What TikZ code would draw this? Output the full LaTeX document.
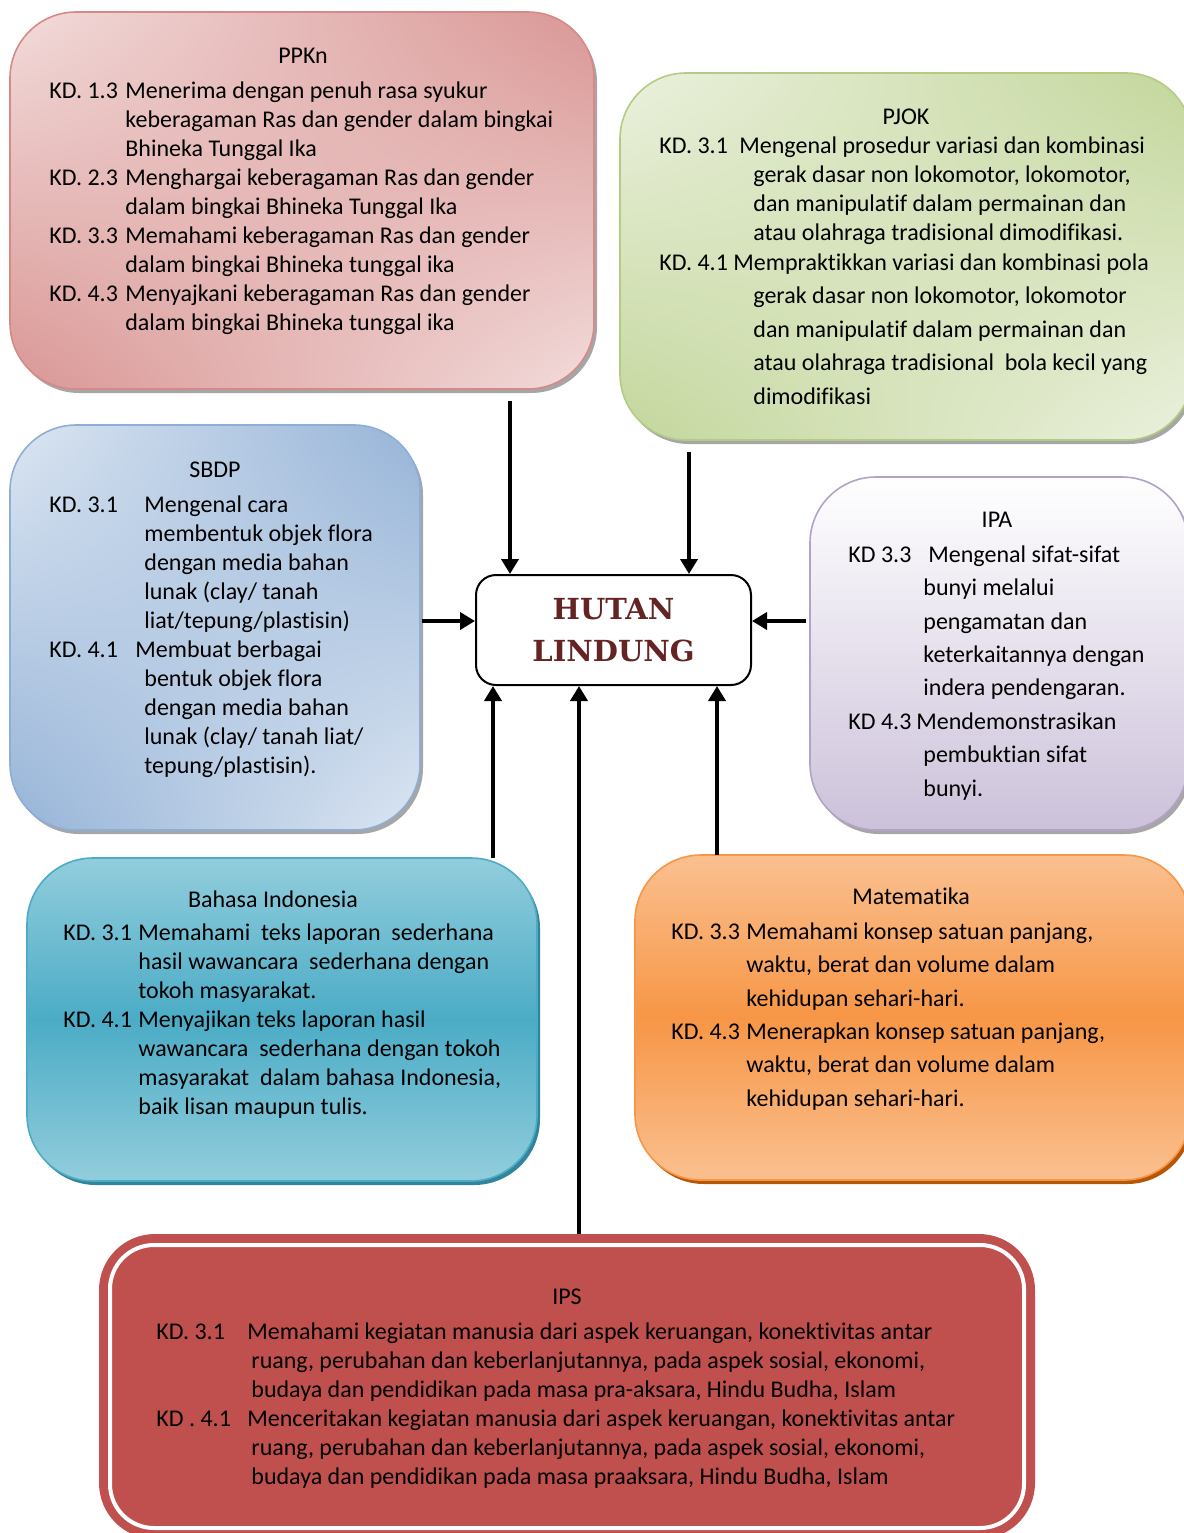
\documentclass[tikz,border=0pt]{standalone}
\usepackage{fontspec}
\setmainfont{Carlito}[Ligatures={NoCommon}]
\newfontfamily\hubfont{DejaVu Serif}
\usetikzlibrary{arrows.meta,shadings,shadows}
\definecolor{pinkL}{HTML}{F2DCDB}
\definecolor{pinkD}{HTML}{D99694}
\definecolor{pinkB}{HTML}{D58A88}
\definecolor{greenL}{HTML}{EBF1DE}
\definecolor{greenD}{HTML}{C3D69B}
\definecolor{greenB}{HTML}{B3CB85}
\definecolor{blueL}{HTML}{DCE6F2}
\definecolor{blueD}{HTML}{95B3D7}
\definecolor{blueB}{HTML}{8EAED5}
\definecolor{purL}{HTML}{FFFFFF}
\definecolor{purD}{HTML}{CCC1DA}
\definecolor{purB}{HTML}{B3A2C7}
\definecolor{tealL}{HTML}{92CDDC}
\definecolor{tealD}{HTML}{4BACC6}
\definecolor{tealS}{HTML}{31849B}
\definecolor{orL}{HTML}{FAC090}
\definecolor{orD}{HTML}{F79646}
\definecolor{orS}{HTML}{B65708}
\definecolor{ipsR}{HTML}{C0504D}
\definecolor{hubtext}{HTML}{632423}
\newcommand\kdlab[2]{\makebox[#1][l]{#2}}
\newcommand\indt[1]{\hspace*{#1}}
\tikzset{
  kbox/.style={rectangle, rounded corners=33pt, inner sep=0pt, outer sep=0pt, line width=0.8pt},
  gshadow/.style={drop shadow={shadow xshift=1.5pt, shadow yshift=-2pt, fill=black, opacity=0.35}},
  ttl/.style={anchor=base, inner sep=0pt, font=\fontsize{12}{14.5}\selectfont},
  body/.style={anchor=base west, inner sep=0pt, font=\fontsize{12}{14.5}\selectfont},
  arr/.style={line width=2pt, -{Triangle[length=7.5pt,width=8.5pt]}},
  hub/.style={rectangle, rounded corners=10pt, draw=black, line width=1pt, fill=white,
     minimum width=137.5pt, minimum height=55pt, align=center, text=hubtext,
     font=\hubfont\bfseries\fontsize{14.5}{21}\selectfont}
}
\begin{document}
\begin{tikzpicture}[x=0.5pt,y=-0.5pt]
\useasboundingbox (0,0) rectangle (1184,1533);

% boxes
\node[kbox, gshadow, draw=pinkB, upper left=pinkL, upper right=pinkD, lower left=pinkD, lower right=pinkL,
      minimum width=292pt, minimum height=188.5pt] (ppkn) at (302,200.5) {};
\node[kbox, gshadow, draw=greenB, upper left=greenL, upper right=greenD, lower left=greenD, lower right=greenL,
      minimum width=286pt, minimum height=183.5pt] (pjok) at (906,256.5) {};
\node[kbox, gshadow, draw=blueB, upper left=blueL, upper right=blueD, lower left=blueD, lower right=blueL,
      minimum width=205pt, minimum height=202.5pt] (sbdp) at (215,627.5) {};
\node[kbox, gshadow, draw=purB, top color=purL, bottom color=purD,
      minimum width=189pt, minimum height=176.5pt] (ipa) at (999,653.5) {};
\node[kbox, drop shadow={shadow xshift=1.5pt, shadow yshift=-2pt, fill=tealS, opacity=1}, draw=tealD,
      top color=tealL, bottom color=tealL, middle color=tealD,
      minimum width=255pt, minimum height=161.5pt] (bahasa) at (282,1019.5) {};
\node[kbox, drop shadow={shadow xshift=1.5pt, shadow yshift=-2pt, fill=orS, opacity=1}, draw=orD,
      top color=orL, bottom color=orL, middle color=orD,
      minimum width=277.5pt, minimum height=162.5pt] (mat) at (912.5,1017.5) {};
\node[kbox, fill=ipsR, rounded corners=28pt,
      minimum width=468pt, minimum height=152.5pt] (ips) at (567,1386.5) {};
\draw[white, line width=2pt, rounded corners=22pt]
  ([shift={(11,11)}]ips.north west) rectangle ([shift={(-11,-11)}]ips.south east);

% center
\node[hub] (hub) at (613.5,630) {HUTAN\\LINDUNG};

% PPKn text
\node[ttl] (ppkn-t) at (303,63) {PPKn};
\node[body] (ppkn-b) at (49,98) {\begin{tabular}[t]{@{}l@{}}
\kdlab{38pt}{KD. 1.3}Menerima dengan penuh rasa syukur\\
\indt{38pt}keberagaman Ras dan gender dalam bingkai\\
\indt{38pt}Bhineka Tunggal Ika\\
\kdlab{38pt}{KD. 2.3}Menghargai keberagaman Ras dan gender\\
\indt{38pt}dalam bingkai Bhineka Tunggal Ika\\
\kdlab{38pt}{KD. 3.3}Memahami keberagaman Ras dan gender\\
\indt{38pt}dalam bingkai Bhineka tunggal ika\\
\kdlab{38pt}{KD. 4.3}Menyajkani keberagaman Ras dan gender\\
\indt{38pt}dalam bingkai Bhineka tunggal ika
\end{tabular}};

% PJOK text
\node[ttl] (pjok-t) at (906,124) {PJOK};
\node[body] (pjok-b) at (659,153) {\begin{tabular}[t]{@{}l@{}}
\kdlab{40pt}{KD. 3.1}Mengenal prosedur variasi dan kombinasi\\
\indt{47pt}gerak dasar non lokomotor, lokomotor,\\
\indt{47pt}dan manipulatif dalam permainan dan\\
\indt{47pt}atau olahraga tradisional dimodifikasi.\\[0.5pt]
\kdlab{37pt}{KD. 4.1}Mempraktikkan variasi dan kombinasi pola\\[2.25pt]
\indt{47pt}gerak dasar non lokomotor, lokomotor\\[2.25pt]
\indt{47pt}dan manipulatif dalam permainan dan\\[2.25pt]
\indt{47pt}atau olahraga tradisional\ \ bola kecil yang\\[2.25pt]
\indt{47pt}dimodifikasi
\end{tabular}};

% SBDP text
\node[ttl] (sbdp-t) at (215,477) {SBDP};
\node[body] (sbdp-b) at (49,512) {\begin{tabular}[t]{@{}l@{}}
\kdlab{47.5pt}{KD. 3.1}Mengenal cara\\
\indt{47.5pt}membentuk objek flora\\
\indt{47.5pt}dengan media bahan\\
\indt{47.5pt}lunak (clay/ tanah\\
\indt{47.5pt}liat/tepung/plastisin)\\
\kdlab{43pt}{KD. 4.1}Membuat berbagai\\
\indt{47.5pt}bentuk objek flora\\
\indt{47.5pt}dengan media bahan\\
\indt{47.5pt}lunak (clay/ tanah liat/\\
\indt{47.5pt}tepung/plastisin).
\end{tabular}};

% IPA text
\node[ttl] (ipa-t) at (997,527) {IPA};
\node[body] (ipa-b) at (848,562) {\def\arraystretch{1.155}\begin{tabular}[t]{@{}l@{}}
\kdlab{40pt}{KD 3.3}Mengenal sifat-sifat\\
\indt{37.5pt}bunyi melalui\\
\indt{37.5pt}pengamatan dan\\
\indt{37.5pt}keterkaitannya dengan\\
\indt{37.5pt}indera pendengaran.\\
\kdlab{34pt}{KD 4.3}Mendemonstrasikan\\
\indt{37.5pt}pembuktian sifat\\
\indt{37.5pt}bunyi.
\end{tabular}};

% Bahasa Indonesia text
\node[ttl] (bahasa-t) at (273,907) {Bahasa Indonesia};
\node[body] (bahasa-b) at (63,940) {\begin{tabular}[t]{@{}l@{}}
\kdlab{37.5pt}{KD. 3.1}Memahami\ \ teks laporan\ \ sederhana\\
\indt{37.5pt}hasil wawancara\ \ sederhana dengan\\
\indt{37.5pt}tokoh masyarakat.\\
\kdlab{37.5pt}{KD. 4.1}Menyajikan teks laporan hasil\\
\indt{37.5pt}wawancara\ \ sederhana dengan tokoh\\
\indt{37.5pt}masyarakat\ \ dalam bahasa Indonesia,\\
\indt{37.5pt}baik lisan maupun tulis.
\end{tabular}};

% Matematika text
\node[ttl] (mat-t) at (911,904) {Matematika};
\node[body] (mat-b) at (671,939) {\def\arraystretch{1.155}\begin{tabular}[t]{@{}l@{}}
\kdlab{37.5pt}{KD. 3.3}Memahami konsep satuan panjang,\\
\indt{37.5pt}waktu, berat dan volume dalam\\
\indt{37.5pt}kehidupan sehari-hari.\\
\kdlab{37.5pt}{KD. 4.3}Menerapkan konsep satuan panjang,\\
\indt{37.5pt}waktu, berat dan volume dalam\\
\indt{37.5pt}kehidupan sehari-hari.
\end{tabular}};

% IPS text
\node[ttl, text=black] (ips-t) at (567,1304) {IPS};
\node[body] (ips-b) at (156,1339) {\begin{tabular}[t]{@{}l@{}}
\kdlab{45.5pt}{KD. 3.1}Memahami kegiatan manusia dari aspek keruangan, konektivitas antar\\
\indt{47.5pt}ruang, perubahan dan keberlanjutannya, pada aspek sosial, ekonomi,\\
\indt{47.5pt}budaya dan pendidikan pada masa pra-aksara, Hindu Budha, Islam\\
\kdlab{45.5pt}{KD . 4.1}Menceritakan kegiatan manusia dari aspek keruangan, konektivitas antar\\
\indt{47.5pt}ruang, perubahan dan keberlanjutannya, pada aspek sosial, ekonomi,\\
\indt{47.5pt}budaya dan pendidikan pada masa praaksara, Hindu Budha, Islam
\end{tabular}};

% connectors
\coordinate (pA) at (510,401);
\coordinate (pB) at (689,452);
\coordinate (pC) at (422,621);
\coordinate (pD) at (806,621);
\coordinate (pE) at (493,858);
\coordinate (pF) at (579,1234);
\coordinate (pG) at (717,855);
\draw[arr] (pA) -- (pA |- hub.north);
\draw[arr] (pB) -- (pB |- hub.north);
\draw[arr] (pC) -- (pC -| hub.west);
\draw[arr] (pD) -- (pD -| hub.east);
\draw[arr] (pE) -- (pE |- hub.south);
\draw[arr] (pF) -- (pF |- hub.south);
\draw[arr] (pG) -- (pG |- hub.south);
\end{tikzpicture}
\end{document}
